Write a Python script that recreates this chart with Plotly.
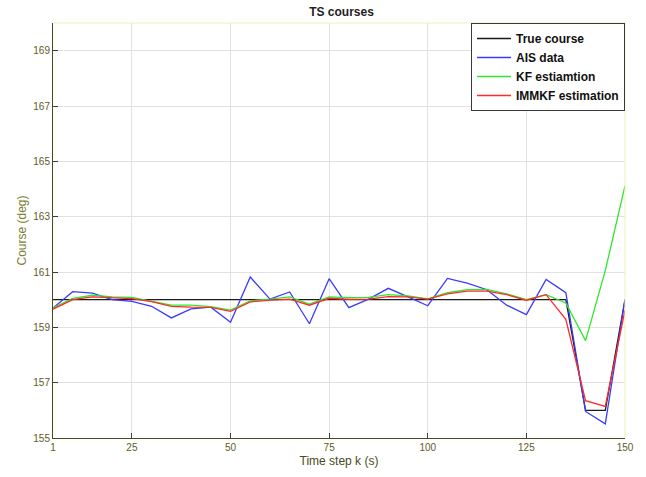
import plotly.graph_objects as go

# Sample times (every 5 steps)
time_steps = [5, 10, 15, 20, 25, 30, 35, 40, 45, 50,
              55, 60, 65, 70, 75, 80, 85, 90, 95, 100,
              105, 110, 115, 120, 125, 130, 135, 140, 145, 150]

true_course = [160.0] * 27 + [156.0, 156.0, 160.0]

ais_data = [159.70, 160.29, 160.24, 160.00, 159.94, 159.76, 159.34, 159.67, 159.73, 159.18,
            160.82, 160.02, 160.28, 159.13, 160.76, 159.71, 160.02, 160.41, 160.10, 159.78,
            160.77, 160.60, 160.36, 159.80, 159.46, 160.73, 160.25, 155.96, 155.51, 160.00]

kf_estimation = [159.70, 160.05, 160.16, 160.10, 160.08, 159.95, 159.80, 159.80, 159.75, 159.62,
                 159.96, 160.02, 160.10, 159.84, 160.10, 160.07, 160.08, 160.18, 160.14, 160.03,
                 160.25, 160.36, 160.37, 160.21, 160.00, 160.18, 159.88, 158.52, 161.05, 164.12]

immkf_estimation = [159.66, 160.00, 160.10, 160.07, 160.04, 159.93, 159.76, 159.73, 159.72, 159.58,
                    159.92, 159.98, 160.02, 159.80, 160.05, 160.01, 160.02, 160.11, 160.10, 160.02,
                    160.21, 160.31, 160.31, 160.18, 159.98, 160.18, 159.29, 156.35, 156.14, 159.62]

x_tick_vals = [5, 25, 50, 75, 100, 125, 150]
x_tick_text = ["1", "25", "50", "75", "100", "125", "150"]
y_tick_vals = [155, 157, 159, 161, 163, 165, 167, 169]

series = [
    ("True course", true_course, "#1a1a1a"),
    ("AIS data", ais_data, "#3a3aff"),
    ("KF estiamtion", kf_estimation, "#2ee82e"),
    ("IMMKF estimation", immkf_estimation, "#ff2a2a"),
]

fig = go.Figure()
for name, values, color in series:
    fig.add_trace(go.Scatter(
        x=time_steps, y=values, mode="lines",
        name="<b>" + name + "</b>",
        line=dict(color=color, width=1.3),
    ))

axis_font = dict(family="Arial, Liberation Sans, sans-serif", size=10, color="#5c5c24")
label_color = "#7c7c2c"

fig.update_layout(
    width=646, height=477,
    margin=dict(l=53, r=15, t=23, b=37),
    paper_bgcolor="white",
    plot_bgcolor="white",
    title=dict(
        text="<b>TS courses</b>",
        x=(53 + 630) / 2 / 646, xanchor="center",
        y=1 - 12 / 477, yanchor="middle",
        font=dict(family="Arial, Liberation Sans, sans-serif", size=12, color="#222222"),
    ),
    xaxis=dict(
        range=[5, 150],
        tickvals=x_tick_vals, ticktext=x_tick_text,
        ticks="inside", ticklen=5, tickcolor="#3c3c3c", tickwidth=1,
        showline=True, linecolor="#4a4a20", linewidth=1,
        showgrid=True, gridcolor="#e2e2e2", gridwidth=1,
        zeroline=False, tickfont=axis_font,
        title=dict(text="Time step k (s)", standoff=4,
                   font=dict(family="Arial, Liberation Sans, sans-serif", size=12, color="#4a4a20")),
    ),
    yaxis=dict(
        range=[155, 170],
        tickvals=y_tick_vals,
        ticks="inside", ticklen=5, tickcolor="#3c3c3c", tickwidth=1,
        showline=True, linecolor="#4a4a20", linewidth=1,
        showgrid=True, gridcolor="#e2e2e2", gridwidth=1,
        zeroline=False, tickfont=axis_font,
        title=dict(text="Course (deg)", standoff=4,
                   font=dict(family="Arial, Liberation Sans, sans-serif", size=12, color=label_color)),
    ),
    legend=dict(
        x=1, xanchor="right", y=1, yanchor="top",
        bgcolor="white", bordercolor="#3a3a3a", borderwidth=1,
        font=dict(family="Arial, Liberation Sans, sans-serif", size=12, color="#111111"),
        tracegroupgap=0, itemwidth=34,
    ),
    showlegend=True,
)

# light frame on the top and right sides of the axes box
fig.add_shape(type="line", xref="paper", yref="paper", x0=0, x1=1, y0=1, y1=1,
              line=dict(color="#efefb8", width=1))
fig.add_shape(type="line", xref="paper", yref="paper", x0=1, x1=1, y0=0, y1=1,
              line=dict(color="#efefb8", width=1))

fig.write_html("out.html")
